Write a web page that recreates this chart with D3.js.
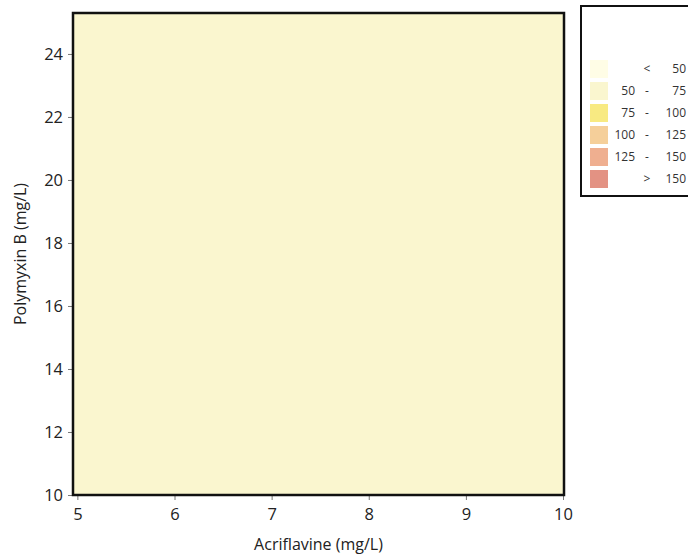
<!DOCTYPE html>
<html>
<head>
<meta charset="utf-8">
<script src="https://cdn.jsdelivr.net/npm/d3@7"></script>
<style>
  body { margin: 0; background: #fff; }
  svg { display: block; font-family: "Open Sans", sans-serif; }
</style>
</head>
<body>
<script>
// Response surface: every grid cell reads the same band (50 - 75)
const acriflavine = [5, 10];          // mg/L, sampled range
const polymyxin = [10, 25.3];         // mg/L, sampled range
const surfaceValue = [[62]];          // one band over the whole range

const xTicks = [5, 6, 7, 8, 9, 10];
const yTicks = [10, 12, 14, 16, 18, 20, 22, 24];

// legend
const bandBreaks = [50, 75, 100, 125, 150];
const bandColors = ["#fffde6", "#faf6cf", "#f8ea82", "#f5cf9a", "#efaf90", "#e39283"];
const bandLow = ["", "50", "75", "100", "125", ""];
const bandOp = ["<", "-", "-", "-", "-", ">"];
const bandHigh = ["50", "75", "100", "125", "150", "150"];

const width = 688, height = 558;
const margin = {top: 13, right: 124, bottom: 63, left: 73};

const svg = d3.select("body").append("svg")
    .attr("width", width)
    .attr("height", height);

const x = d3.scaleLinear()
    .domain([4.955, 10.01])
    .range([margin.left, width - margin.right]);

const y = d3.scaleLinear()
    .domain([10, 25.3])
    .range([height - margin.bottom, margin.top]);

const color = d3.scaleThreshold()
    .domain(bandBreaks)
    .range(bandColors);

// Draw the surface cells
const nx = surfaceValue[0].length, ny = surfaceValue.length;
const cells = [];
surfaceValue.forEach((row, j) => row.forEach((v, i) => {
    cells.push({
        x0: i === 0 ? x.domain()[0] : acriflavine[0] + (acriflavine[1] - acriflavine[0]) * i / nx,
        x1: i === nx - 1 ? x.domain()[1] : acriflavine[0] + (acriflavine[1] - acriflavine[0]) * (i + 1) / nx,
        y0: j === 0 ? y.domain()[0] : polymyxin[0] + (polymyxin[1] - polymyxin[0]) * j / ny,
        y1: j === ny - 1 ? y.domain()[1] : polymyxin[0] + (polymyxin[1] - polymyxin[0]) * (j + 1) / ny,
        v
    });
}));

svg.append("g")
  .selectAll("rect")
  .data(cells)
  .join("rect")
    .attr("x", d => x(d.x0))
    .attr("y", d => y(d.y1))
    .attr("width", d => x(d.x1) - x(d.x0))
    .attr("height", d => y(d.y0) - y(d.y1))
    .attr("fill", d => color(d.v));

// Axes
const xAxis = svg.append("g")
    .attr("transform", `translate(0,${y.range()[0]})`)
    .call(d3.axisBottom(x).tickValues(xTicks).tickFormat(d3.format("d")).tickSize(5).tickPadding(8));

const yAxis = svg.append("g")
    .attr("transform", `translate(${x.range()[0]},0)`)
    .call(d3.axisLeft(y).tickValues(yTicks).tickFormat(d3.format("d")).tickSize(5).tickPadding(5));

[xAxis, yAxis].forEach(g => {
    g.select(".domain").remove();
    g.selectAll(".tick line").attr("stroke", "#777").attr("stroke-width", 1);
    g.selectAll(".tick text")
        .attr("fill", "#222")
        .style("font-size", "16.5px")
        .style("font-family", "'Open Sans', sans-serif");
});

// frame
svg.append("rect")
    .attr("x", x.range()[0])
    .attr("y", y.range()[1])
    .attr("width", x.range()[1] - x.range()[0])
    .attr("height", y.range()[0] - y.range()[1])
    .attr("fill", "none")
    .attr("stroke", "#111")
    .attr("stroke-width", 2.5);

// Axis titles
svg.append("text")
    .attr("x", (x.range()[0] + x.range()[1]) / 2)
    .attr("y", 550)
    .attr("text-anchor", "middle")
    .attr("fill", "#222")
    .style("font-size", "16px")
    .text("Acriflavine (mg/L)");

svg.append("text")
    .attr("transform", `translate(26,${(y.range()[0] + y.range()[1]) / 2}) rotate(-90)`)
    .attr("text-anchor", "middle")
    .attr("fill", "#222")
    .style("font-size", "16px")
    .text("Polymyxin B (mg/L)");

// Legend
const legend = svg.append("g").attr("class", "legend");

legend.append("rect")
    .attr("x", 581)
    .attr("y", 6)
    .attr("width", 120)
    .attr("height", 190)
    .attr("fill", "#fff")
    .attr("stroke", "#111")
    .attr("stroke-width", 2);

const rows = legend.selectAll("g.row")
    .data(bandColors.map((c, i) => ({c, lo: bandLow[i], op: bandOp[i], hi: bandHigh[i]})))
    .join("g")
    .attr("class", "row")
    .attr("transform", (d, i) => `translate(0,${69 + i * 22})`);

rows.append("rect")
    .attr("x", 590)
    .attr("y", -9)
    .attr("width", 18)
    .attr("height", 18)
    .attr("fill", d => d.c);

rows.append("text")
    .attr("x", 635)
    .attr("dy", "0.35em")
    .attr("text-anchor", "end")
    .text(d => d.lo);

rows.append("text")
    .attr("x", 647)
    .attr("dy", "0.35em")
    .attr("text-anchor", "middle")
    .text(d => d.op);

rows.append("text")
    .attr("x", 686)
    .attr("dy", "0.35em")
    .attr("text-anchor", "end")
    .text(d => d.hi);

rows.selectAll("text")
    .attr("fill", "#333")
    .style("font-size", "12px");
</script>
</body>
</html>
